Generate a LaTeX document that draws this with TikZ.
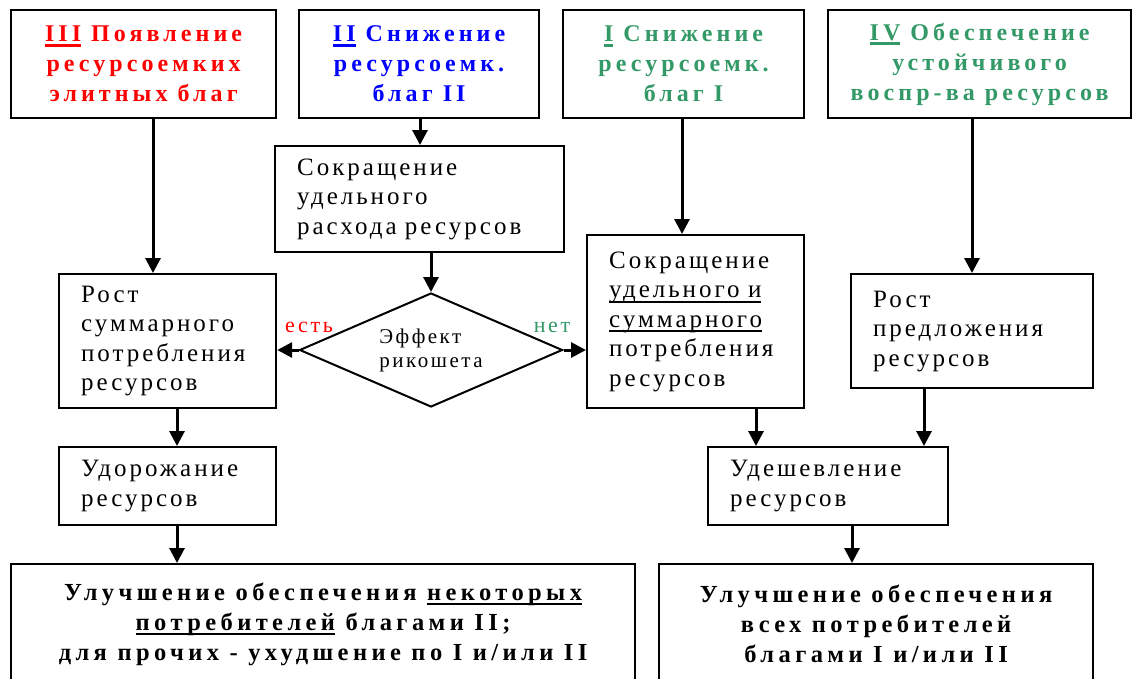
\documentclass[tikz,border=0pt]{standalone}
\usepackage{fontspec}
\setmainfont{Liberation Serif}
\newfontfamily\spcd[LetterSpace=12]{Liberation Serif}
\newfontfamily\spcdb[LetterSpace=17]{Liberation Serif}
\newfontfamily\spcdr[LetterSpace=18]{Liberation Serif}
\usetikzlibrary{shapes.geometric}
\usetikzlibrary{arrows.meta}
\definecolor{seagrn}{RGB}{51,153,102}
\newcommand\undl[2][2pt]{\leavevmode\setbox0\hbox{#2}\rlap{\rule[-5pt]{\wd0}{#1}}\box0\relax}
\hyphenpenalty=10000
\exhyphenpenalty=10000

\begin{document}
\begin{tikzpicture}
      [x=1pt,y=-1pt,line join=miter,
       box/.style={draw,line width=2.2pt,inner sep=0pt,anchor=north west},
       head/.style={box,align=center,font=\spcdb\bfseries\fontsize{24}{30}\selectfont},
       proc/.style={box,align=left,font=\spcd\fontsize{25}{29.5}\selectfont},
       res/.style={box,align=center,font=\spcdr\bfseries\fontsize{24.5}{30}\selectfont},
       lbl/.style={anchor=base,font=\spcd\fontsize{22}{24}\selectfont},
       arr/.style={-{Triangle[length=15pt,width=15pt]},line width=3pt}]

\useasboundingbox (0,0) rectangle (1132,678);

%top row of scenarios
 \node[head,text=red,minimum width=265,minimum height=108] (t3) at (10,9)
      {\undl[3pt]{III} Появление\\ресурсоемких\\элитных благ};
 \node[head,text=blue,minimum width=240,minimum height=108] (t2) at (298,9)
      {\undl[3pt]{II} Снижение\\ресурсоемк.\\благ II};
 \node[head,text=seagrn,minimum width=241,minimum height=108] (t1) at (562,9)
      {\undl[3pt]{I} Снижение\\ресурсоемк.\\благ I};
 \node[head,text=seagrn,minimum width=303,minimum height=108] (t4) at (827,9)
      {\undl[3pt]{IV} Обеспечение\\устойчивого\\воспр-ва ресурсов};

%middle boxes
 \node[proc,minimum width=289,minimum height=106,text width=245] (cut) at (274,145)
      {Сокращение\\удельного\\расхода ресурсов};
 \node[proc,minimum width=217,minimum height=134,text width=173] (grow) at (58,273)
      {Рост\\суммарного\\потребления\\ресурсов};
 \node[proc,minimum width=217,minimum height=78,text width=173] (dear) at (58,446)
      {Удорожание\\ресурсов};
 \node[proc,minimum width=217,minimum height=173,text width=173] (cut2) at (586,234)
      {Сокращение\\\undl{удельного и}\\\undl{суммарного}\\потребления\\ресурсов};
 \node[proc,minimum width=242,minimum height=114,text width=198] (supply) at (850,273)
      {Рост\\предложения\\ресурсов};
 \node[proc,minimum width=240,minimum height=78,text width=196] (cheap) at (707,446)
      {Удешевление\\ресурсов};

%the rebound question
 \node[diamond,draw,line width=2pt,aspect=2.3,inner sep=0pt,minimum width=263,minimum height=114,
       align=left,font=\spcd\fontsize{21}{24}\selectfont] (rico) at (431,350) {Эффект\\рикошета};
 \node[lbl,text=red] (yes) at (309,332) {есть};
 \node[lbl,text=seagrn] (no) at (552,332) {нет};

%results, cut by the lower edge
 \node[res,minimum width=624,minimum height=120] (worse) at (10,563)
      {Улучшение обеспечения \undl{некоторых}\\\undl{потребителей} благами II;\\для прочих - ухудшение по I и/или II};
 \node[res,minimum width=434,minimum height=120] (better) at (658,563)
      {Улучшение обеспечения\\всех потребителей\\благами I и/или II};

%columns of the arrows
 \coordinate (k3) at (153,0);
 \coordinate (k2) at (420,0);
 \coordinate (k1) at (682,0);
 \coordinate (k4) at (972,0);
 \coordinate (kl) at (177,0);
 \coordinate (km) at (756,0);
 \coordinate (kn) at (924,0);
 \coordinate (kr) at (852,0);

 \draw[arr] (k3 |- t3.south) -- (k3 |- grow.north);
 \draw[arr] (k2 |- t2.south) -- (k2 |- cut.north);
 \draw[arr] (k1 |- t1.south) -- (k1 |- cut2.north);
 \draw[arr] (k4 |- t4.south) -- (k4 |- supply.north);
 \draw[arr] (rico.north |- cut.south) -- (rico.north);
 \draw[arr] (rico.west) -- (rico.west -| grow.east);
 \draw[arr] (rico.east) -- (rico.east -| cut2.west);
 \draw[arr] (kl |- grow.south) -- (kl |- dear.north);
 \draw[arr] (kl |- dear.south) -- (kl |- worse.north);
 \draw[arr] (km |- cut2.south) -- (km |- cheap.north);
 \draw[arr] (kn |- supply.south) -- (kn |- cheap.north);
 \draw[arr] (kr |- cheap.south) -- (kr |- better.north);

\end{tikzpicture}
\end{document}
